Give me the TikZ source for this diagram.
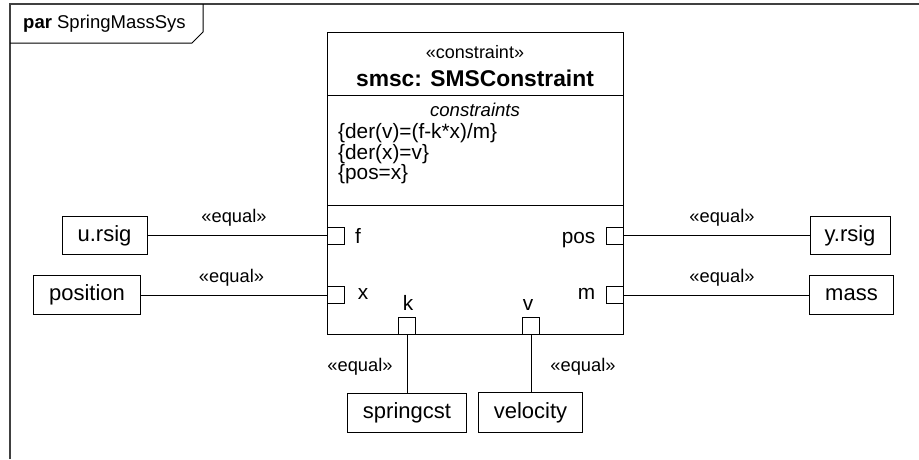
\documentclass[tikz,border=0pt]{standalone}
\usepackage{fontspec}
\setmainfont{Liberation Sans}
\newcommand{\fsz}[1]{\fontsize{#1}{#1}\selectfont}

\begin{document}
\begin{tikzpicture}[x=1pt,y=-1pt,
		conn/.style={line width = 1pt},
		partbox/.style={draw, line width = 1pt, inner sep=0pt, minimum height=38.5pt, font=\fsz{22}},
		port/.style={draw, line width = 1pt, fill=white, minimum size=17pt, inner sep=0pt},
		portlabel/.style={anchor=base, inner sep=0pt, font=\fsz{20.8}},
		equal/.style={anchor=base, inner sep=0pt, font=\fsz{18.3}}]
		
		\useasboundingbox (0,0) rectangle (919,459);
		
		% frame and its tab
		\draw[line width = 2pt, black!75] (10,459) -- (10,4) -- (919,4);
		\draw[line width = 1pt] (10,43) -- (192,43) -- (203,32) -- (203,4);
		\node[anchor=base west, inner sep=0pt, font=\fsz{18.5}] (frametitle) at (23,28) {\textbf{par} SpringMassSys};
		
		% constraint block
		\node[draw, line width = 1pt, minimum width=296pt, minimum height=302pt, inner sep=0pt] (smsc) at (475,183.3) {};
		\draw[line width = 1pt] (327,95.7) -- (623,95.7);
		\draw[line width = 1pt] (327,205) -- (623,205);
		
		\node[anchor=base, inner sep=0pt, font=\fsz{18}] (stereo) at (475,58.5) {«constraint»};
		\node[anchor=base, inner sep=0pt, font=\bfseries\fsz{22.8}] (title) at (475,86.5) {smsc: SMSConstraint};
		\node[anchor=base, inner sep=0pt, font=\itshape\fsz{18.6}] (ctitle) at (475,116.5) {constraints};
		\node[anchor=base west, inner sep=0pt, font=\fsz{20.8}] (c1) at (338,138) {\{der(v)=(f-k*x)/m\}};
		\node[anchor=base west, inner sep=0pt, font=\fsz{20.8}] (c2) at (338,159) {\{der(x)=v\}};
		\node[anchor=base west, inner sep=0pt, font=\fsz{20.8}] (c3) at (338,179.5) {\{pos=x\}};
		
		% ports
		\node[port] (pf) at (335.5,235.5) {};
		\node[port] (px) at (335.5,295) {};
		\node[port] (ppos) at (614.5,235.5) {};
		\node[port] (pm) at (614.5,295) {};
		\node[port] (pk) at (407,325.5) {};
		\node[port] (pv) at (531,325.5) {};
		
		\node[portlabel] (lf) at (358,243.5) {f};
		\node[portlabel] (lx) at (363,299.5) {x};
		\node[portlabel, anchor=base east] (lpos) at (595.5,243.5) {pos};
		\node[portlabel] (lm) at (586.5,299.5) {m};
		\node[portlabel] (lk) at (408,310) {k};
		\node[portlabel] (lv) at (528,310) {v};
		
		% parts
		\node[partbox, minimum width=85pt] (ursig) at (104.5,235.5) {u.rsig};
		\node[partbox, minimum width=107.5pt] (position) at (87,295) {position};
		\node[partbox, minimum width=80pt] (yrsig) at (850,235.5) {y.rsig};
		\node[partbox, minimum width=83.5pt] (mass) at (851.5,295) {mass};
		\node[partbox, minimum width=119.5pt, minimum height=39.5pt] (springcst) at (407,413) {springcst};
		\node[partbox, minimum width=104pt, minimum height=39.5pt] (velocity) at (530.5,412.5) {velocity};
		
		% binding connectors
		\draw[conn] (ursig.east) -- (pf.west);
		\draw[conn] (position.east) -- (px.west);
		\draw[conn] (ppos.east) -- (yrsig.west);
		\draw[conn] (pm.east) -- (mass.west);
		\draw[conn] (pk.south) -- (springcst.north);
		\draw[conn] (pv.south) -- (pv.south |- velocity.north);
		
		\node[equal] (e1) at (234,222) {«equal»};
		\node[equal] (e2) at (231.5,282) {«equal»};
		\node[equal] (e3) at (722,222) {«equal»};
		\node[equal] (e4) at (722,282) {«equal»};
		\node[equal] (e5) at (360,371) {«equal»};
		\node[equal] (e6) at (583,371) {«equal»};
		
	\end{tikzpicture}
\end{document}
